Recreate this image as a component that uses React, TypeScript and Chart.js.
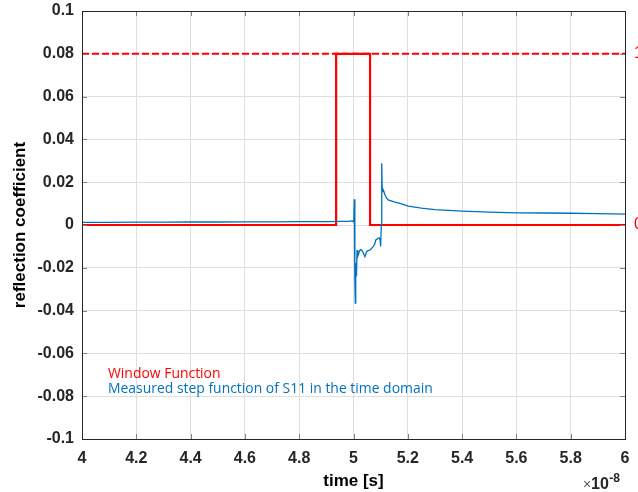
import { useEffect, useRef } from 'react';
import { Chart, registerables } from 'chart.js';

Chart.register(...registerables);

// ---- data (time in units of 1e-8 s) ----
const timeBlue = [4.00, 4.10, 4.20, 4.30, 4.40, 4.50, 4.60, 4.70, 4.80, 4.90, 4.95, 4.98, 4.995, 5.000, 5.001, 5.003, 5.0045, 5.0055, 5.0066, 5.0075, 5.009, 5.011, 5.013, 5.016, 5.020, 5.025, 5.030, 5.036, 5.042, 5.048, 5.054, 5.061, 5.067, 5.073, 5.078, 5.082, 5.087, 5.091, 5.095, 5.098, 5.100, 5.1025, 5.104, 5.106, 5.108, 5.111, 5.116, 5.122, 5.13, 5.15, 5.171, 5.202, 5.25, 5.30, 5.40, 5.50, 5.60, 5.70, 5.80, 5.90, 6.00];
const reflBlue = [0.0012, 0.0012, 0.0013, 0.0013, 0.0014, 0.0014, 0.0015, 0.0015, 0.0016, 0.0016, 0.0017, 0.0017, 0.0019, 0.0015, 0.0020, 0.0120, -0.0020, -0.0250, -0.0365, -0.0200, -0.0178, -0.0240, -0.0117, -0.0145, -0.0130, -0.0115, -0.0117, -0.0130, -0.0148, -0.0125, -0.0120, -0.0117, -0.0108, -0.0100, -0.0090, -0.0070, -0.0066, -0.0062, -0.0060, -0.0070, -0.0100, 0.0000, 0.0288, 0.0156, 0.0168, 0.0160, 0.0140, 0.0125, 0.0116, 0.0108, 0.0101, 0.0088, 0.0079, 0.0072, 0.0065, 0.0060, 0.0057, 0.0056, 0.0055, 0.0053, 0.0051];

const windowTime = [4, 4.936, 4.936, 5.061, 5.061, 6];
const windowLevel = [0, 0, 1, 1, 0, 0];

const dashTime = [4, 6];
const dashLevel = [1, 1];

const xTickValues = [4, 4.2, 4.4, 4.6, 4.8, 5, 5.2, 5.4, 5.6, 5.8, 6];
const xTickLabels = ['4', '4.2', '4.4', '4.6', '4.8', '5', '5.2', '5.4', '5.6', '5.8', '6'];
const yTickValues = [-0.1, -0.08, -0.06, -0.04, -0.02, 0, 0.02, 0.04, 0.06, 0.08, 0.1];
const yTickLabels = ['-0.1', '-0.08', '-0.06', '-0.04', '-0.02', '0', '0.02', '0.04', '0.06', '0.08', '0.1'];
const y2TickValues = [0, 1];
const y2TickLabels = ['0', '1'];

const legendLines = ['Window Function', 'Measured step function of S11 in the time domain'];
const legendColors = ['#ff0000', '#0072bd'];

const FONT = "'Liberation Sans', Arial, Helvetica, sans-serif";

const zeroPad = (s: any) => {
  s.paddingTop = 0;
  s.paddingBottom = 0;
  s.paddingLeft = 0;
  s.paddingRight = 0;
};

const framePlugin = {
  id: 'frame',
  afterDatasetsDraw(chart: any) {
    const { ctx, chartArea } = chart;
    const { left, right, top, bottom } = chartArea;
    const xs = chart.scales.x;
    const ys = chart.scales.y;
    ctx.save();
    // inner tick marks
    ctx.strokeStyle = '#808080';
    ctx.lineWidth = 1;
    ctx.beginPath();
    xTickValues.forEach((v) => {
      const px = Math.round(xs.getPixelForValue(v)) + 0.5;
      ctx.moveTo(px, bottom);
      ctx.lineTo(px, bottom - 5);
      ctx.moveTo(px, top);
      ctx.lineTo(px, top + 5);
    });
    yTickValues.forEach((v) => {
      const py = Math.round(ys.getPixelForValue(v)) + 0.5;
      ctx.moveTo(left, py);
      ctx.lineTo(left + 5, py);
      ctx.moveTo(right, py);
      ctx.lineTo(right - 5, py);
    });
    ctx.stroke();
    // box
    ctx.strokeStyle = '#262626';
    ctx.lineWidth = 1;
    ctx.strokeRect(Math.round(left) + 0.5, Math.round(top) + 0.5, Math.round(right - left), Math.round(bottom - top));
    ctx.restore();
  },
  afterDraw(chart: any) {
    const { ctx } = chart;
    ctx.save();
    // legend-like annotations
    ctx.font = `14px 'Open Sans', 'Noto Sans', sans-serif`;
    const w = ctx.measureText(legendLines[1]).width;
    const size = (14 * 325) / w;
    ctx.font = `${size}px 'Open Sans', 'Noto Sans', sans-serif`;
    ctx.textBaseline = 'middle';
    ctx.textAlign = 'left';
    legendLines.forEach((t, i) => {
      ctx.fillStyle = legendColors[i];
      ctx.fillText(t, 108, 374 + i * 15.5);
    });
    // x10^-8 exponent
    ctx.textBaseline = 'alphabetic';
    ctx.fillStyle = '#555';
    ctx.font = `14px ${FONT}`;
    ctx.fillText('\u00d7', 583, 489);
    ctx.fillStyle = '#262626';
    ctx.font = `bold 16px ${FONT}`;
    ctx.fillText('10', 591, 489);
    const w10 = ctx.measureText('10').width;
    ctx.font = `bold 12px ${FONT}`;
    ctx.fillText('-8', 591 + w10 + 0.5, 482);
    ctx.restore();
  },
};

export default function App() {
  const ref = useRef<HTMLCanvasElement>(null);
  useEffect(() => {
    document.body.style.margin = '0';
    const canvas = ref.current!;
    Chart.defaults.font.family = FONT;
    const chart = new Chart(canvas, {
      type: 'line',
      data: {
        datasets: [
          {
            label: 'Measured step function of S11 in the time domain',
            data: timeBlue.map((t, i) => ({ x: t, y: reflBlue[i] })),
            borderColor: '#0072bd',
            borderWidth: 1.3,
            pointRadius: 0,
            tension: 0,
            yAxisID: 'y',
          },
          {
            label: 'Window Function',
            data: windowTime.map((t, i) => ({ x: t, y: windowLevel[i] })),
            borderColor: '#ff0000',
            borderWidth: 2.2,
            pointRadius: 0,
            tension: 0,
            yAxisID: 'y2',
          },
          {
            label: 'Window level',
            data: dashTime.map((t, i) => ({ x: t, y: dashLevel[i] })),
            borderColor: '#ff0000',
            borderWidth: 2,
            borderDash: [7, 3],
            pointRadius: 0,
            tension: 0,
            yAxisID: 'y2',
          },
        ],
      },
      options: {
        animation: false,
        responsive: false,
        devicePixelRatio: 1,
        layout: { padding: { top: 11, left: 0, right: 0, bottom: 0 } },
        plugins: {
          legend: { display: false },
          tooltip: { enabled: false },
        },
        scales: {
          x: {
            type: 'linear',
            position: 'bottom',
            min: 4,
            max: 6,
            afterBuildTicks: (s: any) => {
              s.ticks = xTickValues.map((v) => ({ value: v }));
            },
            afterFit: (s: any) => {
              s.height = 53;
              zeroPad(s);
            },
            grid: { color: '#dfdfdf', drawTicks: false },
            border: { display: false },
            ticks: {
              padding: 10,
              color: '#262626',
              font: { size: 16, weight: 'bold' },
              maxRotation: 0,
              autoSkip: false,
              callback: (_v: any, i: number) => xTickLabels[i],
            },
            title: {
              display: true,
              text: 'time [s]',
              color: '#000',
              font: { size: 17, weight: 'bold' },
              padding: { top: 0, bottom: 0 },
            },
          },
          y: {
            type: 'linear',
            position: 'left',
            min: -0.1,
            max: 0.1,
            afterBuildTicks: (s: any) => {
              s.ticks = yTickValues.map((v) => ({ value: v }));
            },
            afterFit: (s: any) => {
              s.width = 82;
              zeroPad(s);
            },
            grid: { color: '#dfdfdf', drawTicks: false },
            border: { display: false },
            ticks: {
              padding: 8,
              color: '#262626',
              font: { size: 16, weight: 'bold' },
              autoSkip: false,
              callback: (_v: any, i: number) => yTickLabels[i],
            },
            title: {
              display: true,
              text: 'reflection coefficient',
              color: '#000',
              font: { size: 17, weight: 'bold' },
              padding: { top: 10, bottom: 0 },
            },
          },
          y2: {
            type: 'linear',
            position: 'right',
            min: -1.25,
            max: 1.25,
            afterBuildTicks: (s: any) => {
              s.ticks = y2TickValues.map((v) => ({ value: v }));
            },
            afterFit: (s: any) => {
              s.width = 13;
              zeroPad(s);
            },
            grid: { display: false, drawTicks: false },
            border: { display: false },
            ticks: {
              padding: 9,
              color: '#ff0000',
              font: { size: 16 },
              autoSkip: false,
              callback: (_v: any, i: number) => y2TickLabels[i],
            },
          },
        },
      },
      plugins: [framePlugin],
    });
    return () => chart.destroy();
  }, []);
  return <canvas ref={ref} width={638} height={492} style={{ display: 'block', width: 638, height: 492 }} />;
}
